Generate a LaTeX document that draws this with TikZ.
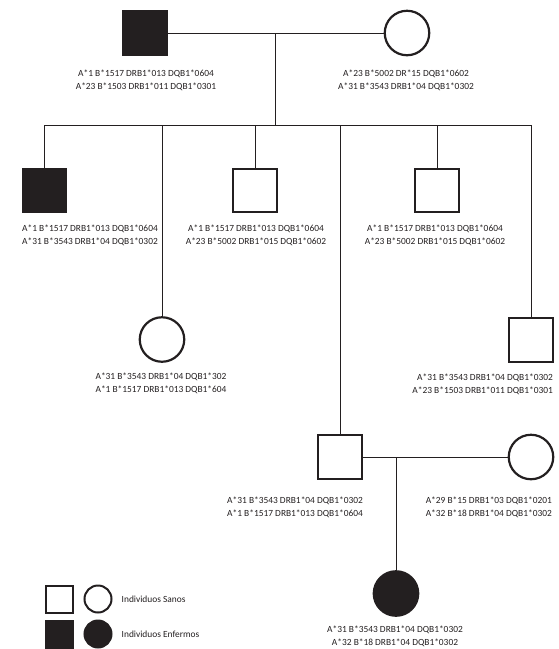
\documentclass[tikz,border=0pt]{standalone}
\usepackage{fontspec}
\setmainfont{Carlito}
\usepackage{xcolor}
\usetikzlibrary{calc}
\usetikzlibrary{positioning}
\definecolor{pedink}{HTML}{231F20}

\begin{document}
\begin{tikzpicture}[x=1pt,y=-1pt,font=\fontsize{9.4}{13.2}\selectfont,
      male style/.style={rectangle,draw=pedink,line width=2.2pt,minimum
        size=43.5pt,inner sep=0pt},
      female style/.style={circle,draw=pedink,line width=2.2pt,minimum
        size=44.5pt,inner sep=0pt},
      ill style/.style={fill=pedink,draw=pedink},
      key male style/.style={rectangle,draw=pedink,line width=2pt,minimum
        size=27pt,inner sep=0pt},
      key female style/.style={circle,draw=pedink,line width=2pt,minimum
        size=27pt,inner sep=0pt},
      hla style/.style={text=pedink,inner sep=0pt,align=center},
      line style/.style={draw=pedink,line width=0.9pt}
      ]
      \useasboundingbox (0,0) rectangle (559,649);

      % first generation
      \node[male style,ill style] (father) at (145,33) {};
      \node[female style] (mother) at (407,33) {};
      \node[hla style] (father hla) at (146,80) {A*1 B*1517 DRB1*013 DQB1*0604\\A*23 B*1503 DRB1*011 DQB1*0301};
      \node[hla style] (mother hla) at (406,80) {A*23 B*5002 DR*15 DQB1*0602\\A*31 B*3543 DRB1*04 DQB1*0302};
      \coordinate (couple) at (275,33);
      \coordinate (sibs) at (275,125);

      % second generation
      \node[male style,ill style] (son1) at (44.5,190.5) {};
      \node[female style] (daughter1) at (162,339.5) {};
      \node[male style] (son2) at (255,190.5) {};
      \node[male style] (son3) at (340,457) {};
      \node[male style] (son4) at (437,190.5) {};
      \node[male style] (son5) at (531,340) {};

      \node[hla style,align=left,anchor=west] (son1 hla) at (22,235.5) {A*1 B*1517 DRB1*013 DQB1*0604\\A*31 B*3543 DRB1*04 DQB1*0302};
      \node[hla style] (son2 hla) at (256,235.5) {A*1 B*1517 DRB1*013 DQB1*0604\\A*23 B*5002 DRB1*015 DQB1*0602};
      \node[hla style] (son4 hla) at (435,235.5) {A*1 B*1517 DRB1*013 DQB1*0604\\A*23 B*5002 DRB1*015 DQB1*0602};
      \node[hla style] (daughter1 hla) at (161,383.5) {A*31 B*3543 DRB1*04 DQB1*302\\A*1 B*1517 DRB1*013 DQB1*604};
      \node[hla style,align=right,anchor=east] (son5 hla) at (553,384.5) {A*31 B*3543 DRB1*04 DQB1*0302\\A*23 B*1503 DRB1*011 DQB1*0301};

      % third generation
      \node[female style] (wife) at (531,457) {};
      \node[female style,ill style] (granddaughter) at (396,593.5) {};
      \node[hla style,align=right,anchor=east] (son3 hla) at (363,507.5) {A*31 B*3543 DRB1*04 DQB1*0302\\A*1 B*1517 DRB1*013 DQB1*0604};
      \node[hla style,align=right,anchor=east] (wife hla) at (552,507.5) {A*29 B*15 DRB1*03 DQB1*0201\\A*32 B*18 DRB1*04 DQB1*0302};
      \node[hla style] (granddaughter hla) at (395,636) {A*31 B*3543 DRB1*04 DQB1*0302\\A*32 B*18 DRB1*04 DQB1*0302};
      \coordinate (couple2) at (396,457);

      % key
      \node[key male style] (key sano m) at (59,599) {};
      \node[key female style,right=10pt of key sano m] (key sano f) {};
      \node[hla style,right=9pt of key sano f] (key sano) {Individuos Sanos};
      \node[key male style,ill style] (key enfermo m) at (59,634) {};
      \node[key female style,ill style,right=10pt of key enfermo m] (key enfermo f) {};
      \node[hla style,right=9pt of key enfermo f] (key enfermo) {Individuos Enfermos};

      \draw[line style] (father) -- (mother);
      \draw[line style] (couple) -- (sibs);
      \draw[line style] (son1 |- sibs) -- (son5 |- sibs);
      \draw[line style] (son1 |- sibs) -- (son1);
      \draw[line style] (daughter1 |- sibs) -- (daughter1);
      \draw[line style] (son2 |- sibs) -- (son2);
      \draw[line style] (son3 |- sibs) -- (son3);
      \draw[line style] (son4 |- sibs) -- (son4);
      \draw[line style] (son5 |- sibs) -- (son5);

      \draw[line style] (son3) -- (wife);
      \draw[line style] (couple2) -- (granddaughter);

    \end{tikzpicture}
\end{document}
